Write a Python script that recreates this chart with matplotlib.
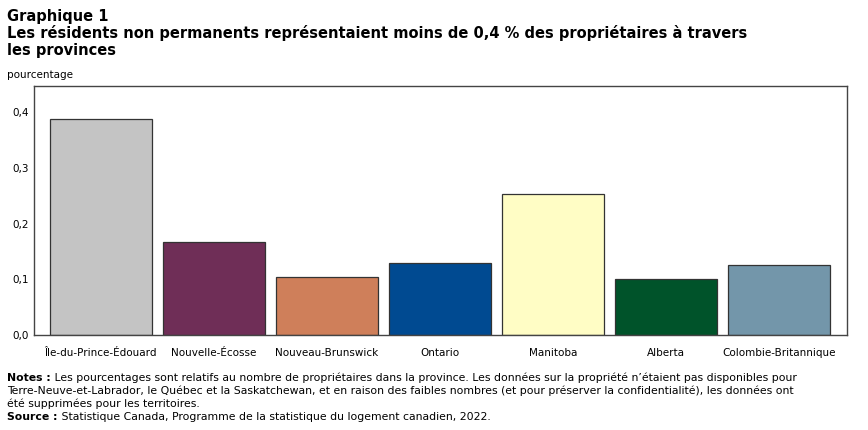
import matplotlib.pyplot as plt

# data
provinces = ['Île-du-Prince-Édouard', 'Nouvelle-Écosse', 'Nouveau-Brunswick',
             'Ontario', 'Manitoba', 'Alberta', 'Colombie-Britannique']
values = [0.387, 0.167, 0.104, 0.129, 0.253, 0.100, 0.126]
colors = ['#C4C4C4', '#6F2E57', '#CF7F5A', '#004A91', '#FFFDC5', '#00532A', '#7396AA']
y_ticks = [0.0, 0.1, 0.2, 0.3, 0.4]

plt.rcParams['font.family'] = ['DejaVu Sans']

fig = plt.figure(figsize=(8.68, 4.30), dpi=100)
ax = fig.add_axes([34 / 868, 1 - 335 / 430, 813 / 868, 249 / 430])

x = range(len(provinces))
ax.bar(x, values, width=0.9, color=colors, edgecolor='#333333', linewidth=0.9)
ax.set_xlim(-0.59, 6.6)
ax.set_ylim(0, 0.447)
ax.set_yticks(y_ticks)
ax.set_yticklabels([f'{v:.1f}'.replace('.', ',') for v in y_ticks], fontsize=7.5)
ax.set_xticks(list(x))
ax.set_xticklabels(provinces, fontsize=7.5)
ax.tick_params(axis='both', length=0, pad=4)
ax.tick_params(axis='x', pad=9)
for s in ax.spines.values():
    s.set_color('#444444')
    s.set_linewidth(1)

fig.text(7 / 868, 1 - 16 / 430, 'Graphique 1', fontsize=10.5, fontweight='bold', va='center')
fig.text(7 / 868, 1 - 33 / 430,
         'Les résidents non permanents représentaient moins de 0,4 % des propriétaires à travers',
         fontsize=10.5, fontweight='bold', va='center')
fig.text(7 / 868, 1 - 50 / 430, 'les provinces', fontsize=10.5, fontweight='bold', va='center')
fig.text(7 / 868, 1 - 75 / 430, 'pourcentage', fontsize=7.5, va='center')

notes = [
    ('Notes :', ' Les pourcentages sont relatifs au nombre de propriétaires dans la province. Les données sur la propriété n’étaient pas disponibles pour'),
    ('', 'Terre-Neuve-et-Labrador, le Québec et la Saskatchewan, et en raison des faibles nombres (et pour préserver la confidentialité), les données ont'),
    ('', 'été supprimées pour les territoires.'),
    ('Source :', ' Statistique Canada, Programme de la statistique du logement canadien, 2022.'),
]
y = 378
for bold, rest in notes:
    t = fig.text(7 / 868, 1 - y / 430, bold, fontsize=7.8, fontweight='bold', va='center')
    if bold:
        fig.canvas.draw()
        bb = t.get_window_extent()
        fig.text(bb.x1 / 868, 1 - y / 430, rest, fontsize=7.8, va='center')
    else:
        fig.text(7 / 868, 1 - y / 430, rest, fontsize=7.8, va='center')
    y += 13

plt.savefig('out.png', dpi=100)
